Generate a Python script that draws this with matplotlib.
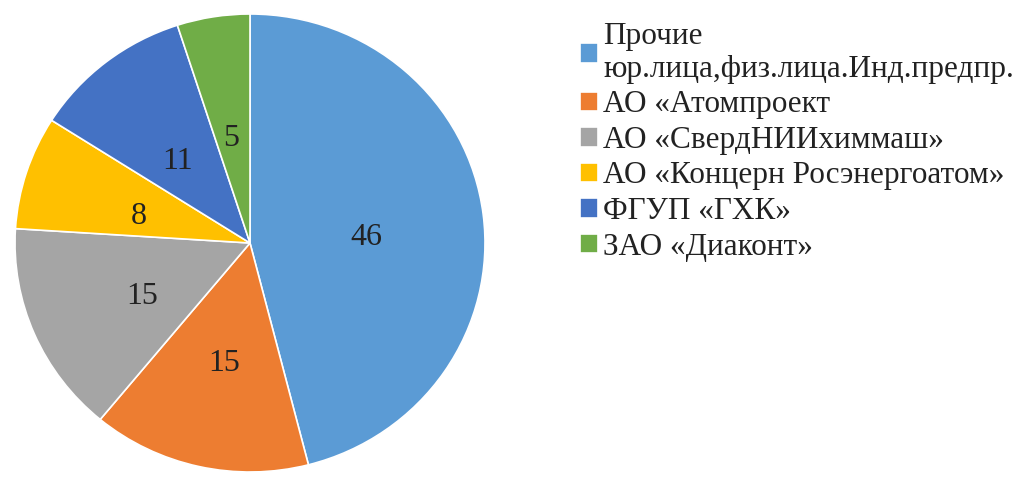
import matplotlib
matplotlib.use("Agg")
import matplotlib.pyplot as plt
from matplotlib.transforms import offset_copy

categories = ["Прочие\nюр.лица,физ.лица.Инд.предпр.", "АО «Атомпроект",
              "АО «СвердНИИхиммаш»", "АО «Концерн Росэнергоатом»",
              "ФГУП «ГХК»", "ЗАО «Диаконт»"]
values = [46, 15, 15, 8, 11, 5]
colors = ["#5B9BD5", "#ED7D31", "#A5A5A5", "#FFC000", "#4472C4", "#70AD47"]

plt.rcParams['font.family'] = ['Liberation Serif', 'DejaVu Serif']

fig = plt.figure(figsize=(10.24, 4.78), dpi=100)
ax = fig.add_axes([15/1024, 6/478, 470/1024, 458/478])
wedges, texts = ax.pie(values, labels=[str(v) for v in values], colors=colors,
                       startangle=90, counterclock=False, labeldistance=0.5,
                       wedgeprops=dict(edgecolor='white', linewidth=1.2),
                       textprops=dict(fontsize=23, color='#222222'))
ax.set_aspect('auto')
ax.set_xlim(-1, 1)
ax.set_ylim(-1, 1)
ax.axis('off')
for t in texts:
    t.set_ha('center'); t.set_va('center_baseline')
    t.set_transform(offset_copy(ax.transData, fig=fig, y=-5, units='dots'))

leg = fig.legend(wedges, categories, loc='upper left',
                 bbox_to_anchor=(580/1024, 1 - 22/478), frameon=False,
                 fontsize=22.5, handlelength=0.58, handleheight=0.58,
                 handletextpad=0.16, labelspacing=0.21, borderpad=0,
                 borderaxespad=0)
for t in leg.get_texts():
    t.set_color('#222222')
    t.set_linespacing(1.17)
fig.savefig("out.png", dpi=100)
